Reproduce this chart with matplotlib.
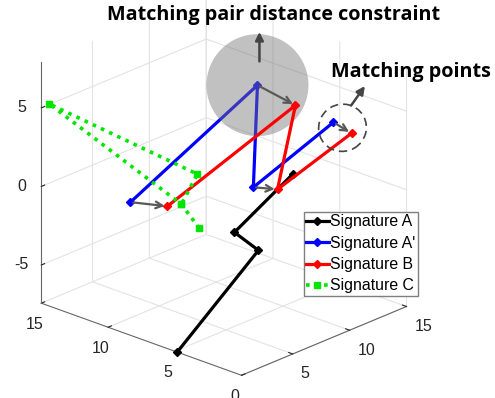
import numpy as np
import matplotlib
matplotlib.use('Agg')
import matplotlib.pyplot as plt
from matplotlib.patches import Circle, Ellipse, FancyArrowPatch
from matplotlib.transforms import IdentityTransform
from mpl_toolkits.mplot3d import proj3d

plt.rcParams['font.family'] = ['Liberation Sans', 'DejaVu Sans']
plt.rcParams['axes.unicode_minus'] = False
plt.rcParams['grid.color'] = '#e3e3e3'
plt.rcParams['grid.linewidth'] = 0.8

# Signature A (black)
a_x = [0.5, 9.12, 8.17, 10.48]
a_y = [4.8, 6.08, 7.07, 4.68]
a_z = [-7.4, -3.94, -2.81, 0.92]
# Signature A' (blue)
ap_x = [4.04, 9.08, 8.92, 12.1]
ap_y = [11.34, 6.12, 6.29, 3.0]
ap_z = [-0.95, 6.57, 0.07, 4.25]
# Signature B (red)
b_x = [5.51, 10.59, 9.88, 12.82]
b_y = [9.82, 4.56, 5.3, 2.26]
b_z = [-1.19, 5.31, -0.05, 3.56]
# Signature C (green, dotted)
c_x = [6.77, 6.06, 0.82, 6.7, 6.06]
c_y = [8.51, 9.25, 14.67, 8.59, 9.25]
c_z = [-2.57, -1.05, 5.25, 0.87, -1.05]

W, H = 495, 398
fig = plt.figure(figsize=(W / 100, H / 100), dpi=100)
S = 400
ax = fig.add_axes([(218.5 - S / 2) / W, (H - 189.8 - S / 2) / H, S / W, S / H],
                  projection='3d', proj_type='ortho')
ax.computed_zorder = False
ax.view_init(elev=22.8, azim=-137.1)
ax.set_box_aspect((242, 273, 261), zoom=1.09)
ax.set_xlim(0.5, 15)
ax.set_ylim(0, 15)
ax.set_zlim(-7.43, 7.9)
ax.set_xticks([5, 10, 15])
ax.set_yticks([0, 5, 10, 15])
ax.set_zticks([-5, 0, 5])
for axis in (ax.xaxis, ax.yaxis, ax.zaxis):
    axis.set_pane_color((1, 1, 1, 0))
    axis.pane.set_edgecolor('none')
    axis.line.set_color('#666666')
    axis.line.set_linewidth(0.8)
    axis._axinfo['tick']['inward_factor'] = 0.0
    axis._axinfo['tick']['outward_factor'] = 0.25
ax.tick_params(labelsize=11.5, colors='#262626')
ax.xaxis.set_tick_params(pad=-2)
ax.yaxis.set_tick_params(pad=-1.5)
ax.zaxis.set_tick_params(pad=0)
for lab in ax.get_xticklabels():
    lab.set_horizontalalignment('left')
for lab in ax.get_zticklabels():
    lab.set_verticalalignment('center')

ax.plot(a_x, a_y, a_z, color='black', lw=2.3, marker='D', ms=4, label='Signature A', zorder=2)
ax.plot(ap_x, ap_y, ap_z, color='blue', lw=2.3, marker='D', ms=4, label="Signature A'", zorder=3)
ax.plot(b_x, b_y, b_z, color='red', lw=2.3, marker='D', ms=4, label='Signature B', zorder=5)
ax.plot(c_x, c_y, c_z, color='#00e600', lw=2.6, ls=(0, (1, 1.5)), marker='s', ms=4.5,
        label='Signature C', zorder=6)

ax.legend(loc='upper left', bbox_to_anchor=(304 / W, 1 - 212 / H), bbox_transform=fig.transFigure,
          borderaxespad=0, fontsize=11.4, handlelength=1.4, handletextpad=0.1, borderpad=0.15,
          labelspacing=0.4, fancybox=False, edgecolor='#7f7f7f', framealpha=1)

fig.canvas.draw()
M = ax.get_proj()


def to_px(x, y, z):
    x2, y2, _ = proj3d.proj_transform(np.atleast_1d(x), np.atleast_1d(y), np.atleast_1d(z), M)
    return ax.transData.transform(np.column_stack([x2, y2]))


pa = to_px(ap_x, ap_y, ap_z)
pb = to_px(b_x, b_y, b_z)

# shaded circle sits between blue and red signatures
circ = Circle(pa[1], 51, transform=IdentityTransform(), facecolor='#767676',
              alpha=0.45, edgecolor='none', zorder=4, clip_on=False)
circ.do_3d_projection = lambda: 0
ax.add_patch(circ)
for p, q in zip(pa, pb):
    fig.add_artist(FancyArrowPatch(p, q, transform=IdentityTransform(), arrowstyle='->',
                                   mutation_scale=12, color='#595959', lw=1.6, shrinkA=2, shrinkB=2))
fig.add_artist(FancyArrowPatch(pa[1] + [2, 21], pa[1] + [2, 56], transform=IdentityTransform(),
                               arrowstyle='-|>', mutation_scale=12, color='#444444', lw=1.8))
mid = (pa[3] + pb[3]) / 2
fig.add_artist(Ellipse(mid, 48, 47, angle=30, transform=IdentityTransform(), facecolor='none',
                       edgecolor='#444444', lw=1.2, ls=(0, (5, 3))))
fig.add_artist(FancyArrowPatch(mid + [7, 20], mid + [24, 44], transform=IdentityTransform(),
                               arrowstyle='-|>', mutation_scale=12, color='#444444', lw=1.8))

fig.text(274 / W, 1 - 15 / H, 'Matching pair distance constraint', ha='center', va='center',
         fontsize=14.2, fontweight='bold', family=['Open Sans', 'DejaVu Sans'], color='black')
fig.text(411 / W, 1 - 72 / H, 'Matching points', ha='center', va='center',
         fontsize=14.2, fontweight='bold', family=['Open Sans', 'DejaVu Sans'], color='black')

fig.savefig('out.png', dpi=100)
